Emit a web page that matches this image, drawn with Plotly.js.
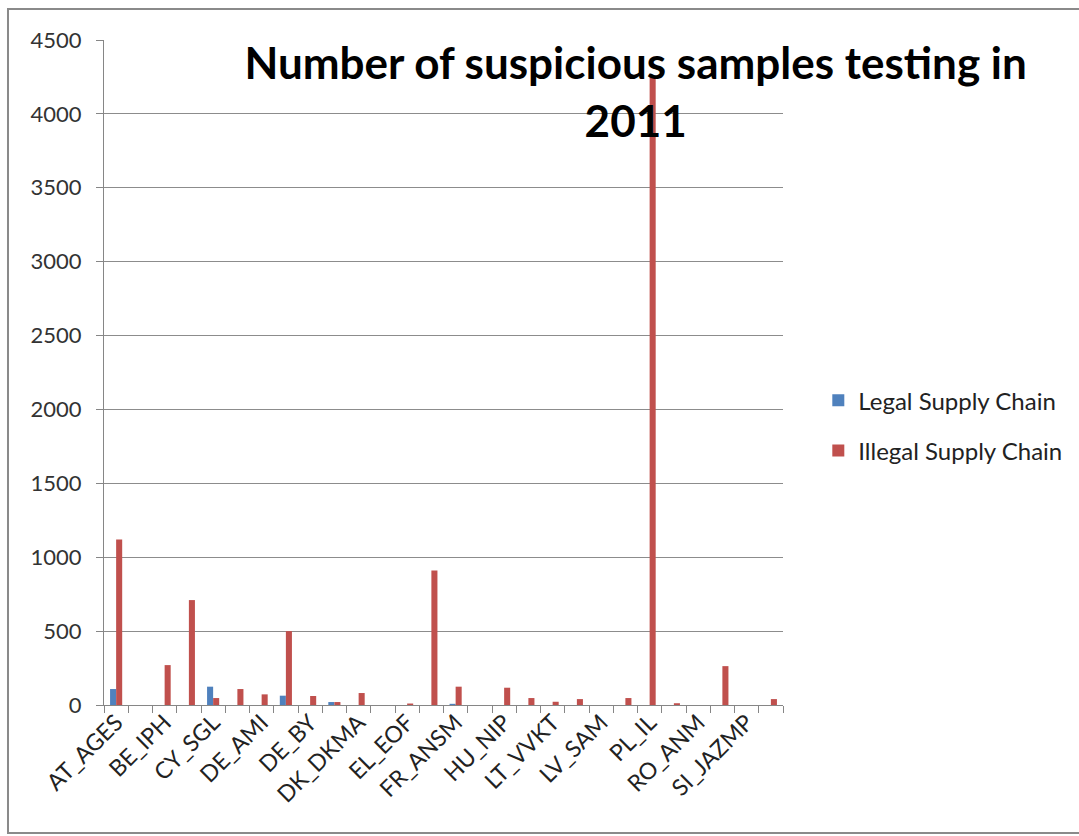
<!DOCTYPE html>
<html>
<head>
<meta charset="utf-8">
<script src="https://cdn.plot.ly/plotly-3.0.1.min.js"></script>
<style>
  html, body { margin: 0; padding: 0; background: #ffffff; }
  #chart { width: 1079px; height: 836px; }
</style>
</head>
<body>
<div id="chart"></div>
<script>
// Categories (every other label is shown on the axis, as in the reference)
const categories = [
  "AT_AGES", "BE_FAMHP", "BE_IPH", "BG_BDA", "CY_SGL", "CZ_SUKL", "DE_AMI",
  "DE_BW", "DE_BY", "DE_NRW", "DK_DKMA", "EE_SAM", "EL_EOF", "ES_AEMPS",
  "FR_ANSM", "HR_HALMED", "HU_NIP", "IT_ISS", "LT_VVKT", "LU_LNS", "LV_SAM",
  "NL_RIVM", "PL_IL", "PT_INFARMED", "RO_ANM", "SE_MPA", "SI_JAZMP", "SK_SUKL"
];

const legalSupply = [
  108, 0, 0, 0, 124, 0, 0,
  63, 0, 20, 0, 0, 0, 0,
  8, 0, 0, 0, 0, 0, 0,
  0, 0, 0, 0, 0, 0, 0
];

const illegalSupply = [
  1120, 0, 270, 710, 47, 108, 72,
  500, 61, 20, 81, 0, 10, 910,
  124, 0, 117, 47, 22, 40, 0,
  47, 4250, 12, 0, 263, 0, 40
];

const seriesNames = ["Legal Supply Chain", "Illegal Supply Chain"];
const yTicks = [0, 500, 1000, 1500, 2000, 2500, 3000, 3500, 4000, 4500];

const tickText = categories.map((c, i) => (i % 2 === 0 ? c : ""));

const font = "Lato, 'DejaVu Sans', sans-serif";

const traces = [
  {
    type: "bar",
    name: seriesNames[0],
    x: categories,
    y: legalSupply,
    marker: { color: "#4F81BD" },
    legendgroup: "g1"
  },
  {
    type: "bar",
    name: seriesNames[1],
    x: categories,
    y: illegalSupply,
    marker: { color: "#C0504D" },
    legendgroup: "g2"
  }
];

const layout = {
  width: 1079,
  height: 836,
  margin: { l: 104, r: 296, t: 40, b: 131 },
  paper_bgcolor: "#ffffff",
  plot_bgcolor: "#ffffff",
  barmode: "group",
  bargap: 0.5,
  bargroupgap: 0,
  font: { family: font, color: "#333333", size: 21 },
  title: {
    text: "Number of suspicious samples testing in<br>2011",
    font: { family: font, size: 44, color: "#000000", weight: "bold" },
    xref: "paper",
    x: 0.783,
    xanchor: "center",
    yref: "container",
    y: 0.905,
    yanchor: "top"
  },
  xaxis: {
    type: "category",
    tickmode: "array",
    tickvals: categories,
    ticktext: tickText,
    tickson: "boundaries",
    ticks: "outside",
    ticklen: 7,
    tickcolor: "#868686",
    tickwidth: 1,
    tickangle: -45,
    ticklabelstandoff: -6,
    tickfont: { family: font, size: 23, color: "#222222" },
    showline: true,
    linecolor: "#868686",
    linewidth: 1,
    showgrid: false,
    zeroline: false,
    fixedrange: true
  },
  yaxis: {
    range: [0, 4500],
    tickmode: "array",
    tickvals: yTicks,
    ticks: "outside",
    ticklen: 7,
    tickcolor: "#868686",
    tickfont: { family: font, size: 22, color: "#333333" },
    ticklabelstandoff: 10,
    showline: true,
    linecolor: "#868686",
    linewidth: 1,
    showgrid: true,
    gridcolor: "#8c8c8c",
    gridwidth: 1,
    zeroline: false,
    fixedrange: true
  },
  legend: {
    x: 1.052,
    xanchor: "left",
    y: 0.42,
    yanchor: "middle",
    font: { family: font, size: 24, color: "#222222" },
    tracegroupgap: 16,
    itemwidth: 30,
    bgcolor: "rgba(0,0,0,0)"
  },
  shapes: [
    {
      type: "rect",
      xref: "paper",
      yref: "paper",
      x0: -0.1414,
      x1: 1.5,
      y0: -0.1925,
      y1: 1.0466,
      line: { color: "#8a8a8a", width: 2 },
      fillcolor: "rgba(0,0,0,0)",
      layer: "below"
    }
  ],
  showlegend: true
};

Plotly.newPlot("chart", traces, layout, { displayModeBar: false, staticPlot: true });
</script>
</body>
</html>
